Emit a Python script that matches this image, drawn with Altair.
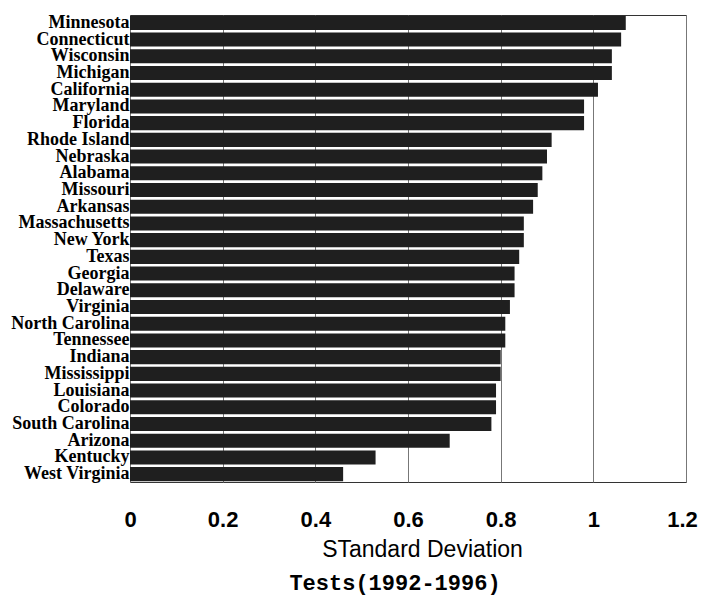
import altair as alt
import pandas as pd

states = ["Minnesota", "Connecticut", "Wisconsin", "Michigan", "California",
          "Maryland", "Florida", "Rhode Island", "Nebraska", "Alabama",
          "Missouri", "Arkansas", "Massachusetts", "New York", "Texas",
          "Georgia", "Delaware", "Virginia", "North Carolina", "Tennessee",
          "Indiana", "Mississippi", "Louisiana", "Colorado", "South Carolina",
          "Arizona", "Kentucky", "West Virginia"]
sd_values = [1.07, 1.06, 1.04, 1.04, 1.01,
             0.98, 0.98, 0.91, 0.90, 0.89,
             0.88, 0.87, 0.85, 0.85, 0.84,
             0.83, 0.83, 0.82, 0.81, 0.81,
             0.80, 0.80, 0.79, 0.79, 0.78,
             0.69, 0.53, 0.46]
x_ticks = [0, 0.2, 0.4, 0.6, 0.8, 1.0, 1.2]

df = pd.DataFrame({"state": states, "sd": sd_values})

chart = alt.Chart(df).mark_bar(color="#1f1f1f").encode(
    x=alt.X("sd:Q",
            scale=alt.Scale(domain=[0, 1.2], nice=False),
            axis=alt.Axis(values=x_ticks, format="~g", title="STandard Deviation",
                          labelFont="Liberation Sans", labelFontWeight="bold",
                          labelFontSize=22, labelColor="black", labelPadding=27,
                          labelFlush=False, labelOverlap=False,
                          labelOffset=alt.condition("datum.value > 1.1",
                                                    alt.value(-4), alt.value(0)),
                          ticks=False, domain=False, grid=True,
                          gridColor="#777", gridWidth=1,
                          titleFont="Liberation Sans", titleFontWeight="normal",
                          titleFontSize=23, titleColor="black", titlePadding=8,
                          titleX=292, titleAlign="center")),
    y=alt.Y("state:N", sort=states,
            scale=alt.Scale(paddingInner=0.16, paddingOuter=0.05),
            axis=alt.Axis(title=None, labelFont="Liberation Serif",
                          labelFontWeight="bold", labelFontSize=18,
                          labelColor="black", labelPadding=1, labelLimit=300,
                          ticks=False, domain=False, grid=False))
).properties(
    width=556,
    height=467,
    padding={"left": 122, "top": 7, "right": 12, "bottom": 115},
    autosize=alt.AutoSizeParams(type="none"),
    title=alt.TitleParams("Tests(1992-1996)", orient="bottom",
                          font="Liberation Mono", fontWeight="bold",
                          fontSize=22, color="black", offset=12, anchor="middle",
                          dx=-13)
).configure_view(
    stroke="#333", strokeWidth=1
)

chart.save("out.html", embed_options={"renderer": "svg", "actions": False})
